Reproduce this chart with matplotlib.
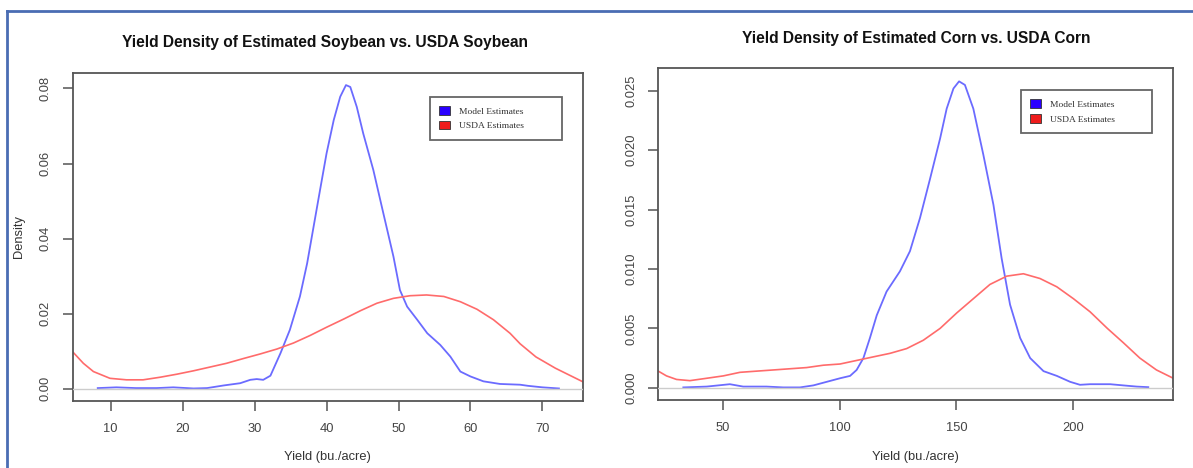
import matplotlib.pyplot as plt
from matplotlib.lines import Line2D
from matplotlib.patches import Patch
from matplotlib.ticker import FormatStrFormatter

# Soybean panel: density curves
soy_model_x = [8.2, 10.8, 13.5, 16.4, 18.7, 21.5, 23.4, 25.7, 28.0, 29.4, 30.3, 31.2,
               32.2, 33.6, 34.9, 36.3, 37.3, 38.2, 39.1, 40.0, 41.0, 41.9, 42.7, 43.3,
               44.2, 45.1, 46.5, 47.9, 49.3, 50.2, 51.2, 52.6, 54.0, 55.8, 57.2, 58.6,
               60.0, 61.8, 64.1, 66.9, 68.0, 70.0, 72.3]
soy_model_y = [0.0002, 0.0004, 0.0002, 0.0002, 0.0004, 0.0001, 0.0002, 0.0009, 0.0015,
               0.0024, 0.0026, 0.0024, 0.0035, 0.0095, 0.0157, 0.0246, 0.0334, 0.0432,
               0.0530, 0.0627, 0.0716, 0.0778, 0.0809, 0.0804, 0.0751, 0.0680, 0.0583,
               0.0467, 0.0352, 0.0263, 0.0219, 0.0184, 0.0148, 0.0117, 0.0086, 0.0046,
               0.0033, 0.0020, 0.0013, 0.0011, 0.0008, 0.0004, 0.0001]
soy_usda_x = [4.7, 6.2, 7.6, 9.9, 12.2, 14.5, 16.9, 19.2, 21.5, 23.8, 26.1, 28.5, 30.8,
              33.1, 35.4, 37.7, 40.0, 42.4, 44.7, 47.0, 49.3, 51.6, 53.9, 56.3, 58.6,
              60.9, 63.2, 65.5, 66.9, 69.1, 71.8, 75.6]
soy_usda_y = [0.0099, 0.0068, 0.0046, 0.0028, 0.0024, 0.0024, 0.0031, 0.0039, 0.0048,
              0.0058, 0.0068, 0.0081, 0.0093, 0.0106, 0.0122, 0.0142, 0.0164, 0.0186,
              0.0208, 0.0228, 0.0241, 0.0248, 0.0250, 0.0246, 0.0232, 0.0212, 0.0184,
              0.0148, 0.0120, 0.0085, 0.0055, 0.0019]

# Corn panel
corn_model_x = [33.2, 43.2, 53.1, 58.8, 68.8, 75.9, 83.1, 88.8, 94.5, 100.2, 104.5,
                107.3, 110.2, 113.0, 115.9, 120.1, 125.8, 130.1, 134.4, 138.7, 143.0,
                145.8, 148.7, 151.1, 153.6, 157.2, 161.5, 165.8, 169.3, 172.9, 177.2,
                181.5, 187.2, 192.9, 198.6, 202.8, 207.1, 215.7, 221.3, 227.0, 232.0]
corn_model_y = [0.00003, 0.0001, 0.0003, 0.0001, 0.0001, 0.00003, 0.00003, 0.0002,
                0.0005, 0.0008, 0.0010, 0.0015, 0.0025, 0.0042, 0.0061, 0.0081, 0.0098,
                0.0115, 0.0143, 0.0176, 0.0210, 0.0235, 0.0252, 0.0258, 0.0255, 0.0235,
                0.0196, 0.0154, 0.0109, 0.0070, 0.0042, 0.0025, 0.0014, 0.0010, 0.0005,
                0.00025, 0.0003, 0.0003, 0.0002, 0.0001, 0.00005]
corn_usda_x = [22.5, 26.0, 30.3, 36.0, 43.2, 50.3, 57.4, 64.5, 71.7, 78.8, 85.9, 93.1,
               100.2, 107.3, 114.4, 121.6, 128.7, 135.8, 143.0, 150.1, 157.2, 164.3,
               171.5, 178.6, 185.7, 192.9, 200.0, 207.1, 214.5, 221.3, 228.4, 235.5, 242.7]
corn_usda_y = [0.0014, 0.0010, 0.0007, 0.0006, 0.0008, 0.0010, 0.0013, 0.0014, 0.0015,
               0.0016, 0.0017, 0.0019, 0.0020, 0.0023, 0.0026, 0.0029, 0.0033, 0.0040,
               0.0050, 0.0063, 0.0075, 0.0087, 0.0094, 0.0096, 0.0092, 0.0085, 0.0075,
               0.0064, 0.0050, 0.0038, 0.0025, 0.0015, 0.0008]

titles = ["Yield Density of Estimated Soybean vs. USDA Soybean",
          "Yield Density of Estimated Corn vs. USDA Corn"]
legend_labels = ["Model Estimates", "USDA Estimates"]

plt.rcParams['font.family'] = ['Liberation Sans', 'DejaVu Sans']

W, H = 1193, 468
fig = plt.figure(figsize=(W / 100, H / 100), dpi=100)


def px_axes(left, top, right, bottom):
    return fig.add_axes([left / W, 1 - bottom / H, (right - left) / W, (bottom - top) / H])


def style(ax):
    for s in ax.spines.values():
        s.set_color("#555555")
        s.set_linewidth(1.3)
    ax.tick_params(direction="out", length=7, width=1.1, color="#555555",
                   labelcolor="#444444", labelsize=9.3)
    ax.tick_params(axis="x", pad=8.5)
    ax.tick_params(axis="y", pad=8, labelrotation=90)
    for lab in ax.get_yticklabels():
        lab.set_va("center")


def draw(ax, mx, my, ux, uy, xlim, ylim, xt, yt, fmt, leg):
    ax.plot(mx, my, color="#6b6bff", lw=1.3, zorder=2)
    ax.plot(ux, uy, color="#ff6b6b", lw=1.2, zorder=2)
    ax.axhline(0, color="#cccccc", lw=1.0, zorder=3)
    ax.set_xlim(*xlim)
    ax.set_ylim(*ylim)
    ax.set_xticks(xt)
    ax.set_yticks(yt)
    ax.yaxis.set_major_formatter(FormatStrFormatter(fmt))
    style(ax)
    handles = [Patch(facecolor="#2a00ff", edgecolor="#333333", lw=0.6),
               Patch(facecolor="#ee1c1c", edgecolor="#333333", lw=0.6)]
    lg = ax.legend(handles, legend_labels, loc="upper left", bbox_to_anchor=leg,
                   mode="expand", borderaxespad=0, fancybox=False, framealpha=1,
                   handlelength=1.1, handleheight=1.0, handletextpad=1.0,
                   labelspacing=0.55, borderpad=1.0,
                   prop={"family": "Liberation Serif", "size": 6.8})
    lg.get_frame().set_edgecolor("#666666")
    lg.get_frame().set_linewidth(1.3)
    for t in lg.get_texts():
        t.set_color("#333333")


ax1 = px_axes(72.7, 72.7, 582.7, 401)
draw(ax1, soy_model_x, soy_model_y, soy_usda_x, soy_usda_y,
     (4.72, 75.6), (-0.00324, 0.0842), [10, 20, 30, 40, 50, 60, 70],
     [0, 0.02, 0.04, 0.06, 0.08], "%.2f", (0.7006, 0, 0.258, 0.927))

ax2 = px_axes(658.3, 68.3, 1173.3, 400)
draw(ax2, corn_model_x, corn_model_y, corn_usda_x, corn_usda_y,
     (22.5, 242.7), (-0.00103, 0.0269), [50, 100, 150, 200],
     [0, 0.005, 0.010, 0.015, 0.020, 0.025], "%.3f", (0.7043, 0, 0.255, 0.9346))

fig.text(325 / W, 1 - 42 / H, titles[0], ha="center", va="center",
         fontsize=11.2, fontweight="bold", color="#111111")
fig.text(916 / W, 1 - 38 / H, titles[1], ha="center", va="center",
         fontsize=11.2, fontweight="bold", color="#111111")
fig.text(327.7 / W, 1 - 457 / H, "Yield (bu./acre)", ha="center", va="center",
         fontsize=9.3, color="#333333")
fig.text(915.8 / W, 1 - 457 / H, "Yield (bu./acre)", ha="center", va="center",
         fontsize=9.3, color="#333333")
fig.text(19 / W, 1 - 237 / H, "Density", ha="center", va="center", rotation=90,
         fontsize=9.3, color="#333333")

# blue page frame around the screenshot
fig.add_artist(Line2D([7 / W, 1], [1 - 11 / H, 1 - 11 / H], color="#4a6db3", lw=2))
fig.add_artist(Line2D([7 / W, 7 / W], [0, 1 - 11 / H], color="#4a6db3", lw=2))

fig.savefig("out.png", dpi=100, facecolor="white")
